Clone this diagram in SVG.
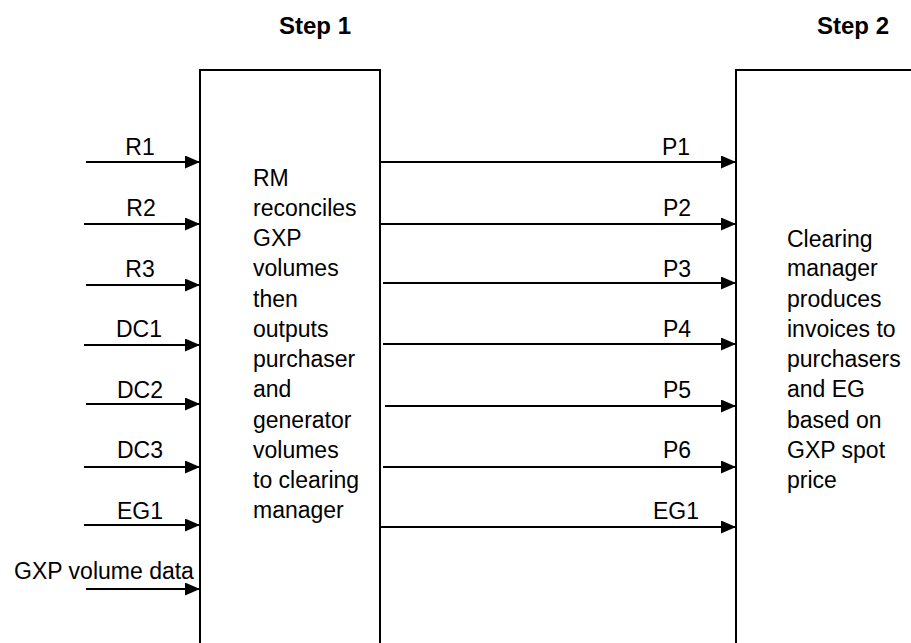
<svg xmlns="http://www.w3.org/2000/svg" width="911" height="643" viewBox="0 0 911 643">
<defs>
<marker id="ah" markerWidth="15" markerHeight="13" refX="15" refY="6.5" orient="auto" markerUnits="userSpaceOnUse">
<path d="M0,0 L15,6.5 L0,13 Z" fill="#000"/>
</marker>
<style>
.box{fill:#fff;stroke:#000;stroke-width:2}
.t{font-family:"Liberation Sans",Arial,sans-serif;font-size:23px;fill:#000}
.lab{font-family:"Liberation Sans",Arial,sans-serif;font-size:23px;fill:#000;text-anchor:middle}
.h{font-family:"Liberation Sans",Arial,sans-serif;font-size:24px;font-weight:bold;fill:#000;text-anchor:middle}
.c{stroke:#000;stroke-width:2;fill:none;marker-end:url(#ah)}
</style>
</defs>
<rect width="911" height="643" fill="#fff"/>
<text class="h" x="315" y="34">Step 1</text>
<text class="h" x="853" y="34">Step 2</text>
<g id="step1">
<path class="box" d="M200,650 L200,70 L380,70 L380,650"/>
<text class="t" x="253" y="186">RM</text>
<text class="t" x="253" y="216">reconciles</text>
<text class="t" x="253" y="246">GXP</text>
<text class="t" x="253" y="276">volumes</text>
<text class="t" x="253" y="307">then</text>
<text class="t" x="253" y="337">outputs</text>
<text class="t" x="253" y="367">purchaser</text>
<text class="t" x="253" y="397">and</text>
<text class="t" x="253" y="428">generator</text>
<text class="t" x="253" y="458">volumes</text>
<text class="t" x="253" y="488">to clearing</text>
<text class="t" x="253" y="518">manager</text>
</g>
<g id="step2">
<path class="box" d="M736,650 L736,70 L920,70"/>
<text class="t" x="787" y="247">Clearing</text>
<text class="t" x="787" y="276">manager</text>
<text class="t" x="787" y="307">produces</text>
<text class="t" x="787" y="337">invoices to</text>
<text class="t" x="787" y="367">purchasers</text>
<text class="t" x="787" y="397">and EG</text>
<text class="t" x="787" y="428">based on</text>
<text class="t" x="787" y="458">GXP spot</text>
<text class="t" x="787" y="488">price</text>
</g>
<g id="connectors">
<line class="c" x1="86" y1="162" x2="200" y2="162"/>
<line class="c" x1="84" y1="224" x2="200" y2="224"/>
<line class="c" x1="86" y1="285" x2="200" y2="285"/>
<line class="c" x1="84" y1="345" x2="200" y2="345"/>
<line class="c" x1="86" y1="404" x2="200" y2="404"/>
<line class="c" x1="84" y1="467" x2="200" y2="467"/>
<line class="c" x1="84" y1="525" x2="200" y2="525"/>
<line class="c" x1="86" y1="589" x2="200" y2="589"/>
<line class="c" x1="380" y1="162" x2="736" y2="162"/>
<line class="c" x1="380" y1="224" x2="736" y2="224"/>
<line class="c" x1="383" y1="283" x2="736" y2="283"/>
<line class="c" x1="383" y1="344" x2="736" y2="344"/>
<line class="c" x1="385" y1="406" x2="736" y2="406"/>
<line class="c" x1="383" y1="467" x2="736" y2="467"/>
<line class="c" x1="380" y1="527" x2="736" y2="527"/>
<text class="lab" x="140" y="155">R1</text>
<text class="lab" x="141" y="216">R2</text>
<text class="lab" x="140" y="277">R3</text>
<text class="lab" x="139" y="337">DC1</text>
<text class="lab" x="140" y="398">DC2</text>
<text class="lab" x="140" y="458">DC3</text>
<text class="lab" x="140" y="519">EG1</text>
<text class="lab" x="104" y="579">GXP volume data</text>
<text class="lab" x="676" y="155">P1</text>
<text class="lab" x="677" y="216">P2</text>
<text class="lab" x="677" y="277">P3</text>
<text class="lab" x="677" y="337">P4</text>
<text class="lab" x="677" y="398">P5</text>
<text class="lab" x="677" y="458">P6</text>
<text class="lab" x="676" y="519">EG1</text>
</g>
</svg>
